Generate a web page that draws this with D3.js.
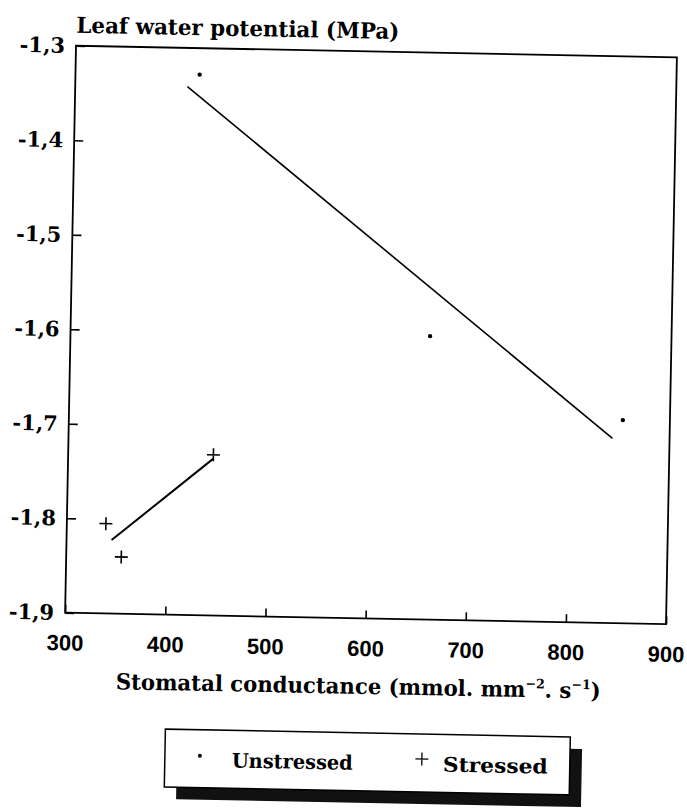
<!DOCTYPE html>
<html>
<head>
<meta charset="utf-8">
<script src="https://cdn.jsdelivr.net/npm/d3@7"></script>
<style>
  body { margin: 0; background: #fff; }
  svg { display: block; }
</style>
</head>
<body>
<div id="chart"></div>
<script>

// data
var unstressedX = [424, 659, 853];
var unstressedY = [-1.328, -1.600, -1.685];
var stressedX = [339, 355, 445];
var stressedY = [-1.805, -1.840, -1.730];
// x span over which each fitted line is drawn
var unstressedFitX = [412, 843];
var stressedFitX = [345, 445];

var xTicks = [300, 400, 500, 600, 700, 800, 900];
var yTicks = [-1.3, -1.4, -1.5, -1.6, -1.7, -1.8, -1.9];
var yTickLabels = ["-1,3", "-1,4", "-1,5", "-1,6", "-1,7", "-1,8", "-1,9"];

var yTitle = "Leaf water potential (MPa)";
var legendNames = ["Unstressed", "Stressed"];

var W = 687, H = 810;
var plotL = 70.5, plotR = 671.5, plotT = 51.5, plotB = 618.5;
var titleFont = "'DejaVu Serif', serif";

var svg = d3.select("#chart").append("svg")
    .attr("width", W)
    .attr("height", H);

// the scan is turned a little, so the whole figure is turned with it
var g = svg.append("g")
    .attr("transform", "rotate(1.1, 371.5, 335.25)");

var x = d3.scaleLinear().domain([300, 900]).range([plotL, plotR]);
var y = d3.scaleLinear().domain([-1.9, -1.3]).range([plotB, plotT]);

// least squares line through one series
function fit(xs, ys) {
  var mx = d3.mean(xs), my = d3.mean(ys);
  var sxy = d3.sum(xs, function(v, i) { return (v - mx) * (ys[i] - my); });
  var sxx = d3.sum(xs, function(v) { return (v - mx) * (v - mx); });
  var b = sxy / sxx;
  return function(v) { return my + b * (v - mx); };
}

// axes
var yAxis = d3.axisLeft(y)
    .tickValues(yTicks)
    .tickSize(-9)
    .tickSizeOuter(0)
    .tickPadding(11)
    .tickFormat(function(d, i) { return yTickLabels[i]; });

var xAxis = d3.axisBottom(x)
    .tickValues(xTicks)
    .tickSize(-8)
    .tickSizeOuter(0)
    .tickPadding(22)
    .tickFormat(d3.format("d"));

var gy = g.append("g")
    .attr("transform", "translate(" + plotL + ",0)")
    .call(yAxis);
gy.select(".domain").remove();
gy.selectAll("line").attr("stroke", "#000").attr("stroke-width", 1.6);
gy.selectAll("text")
    .attr("fill", "#000")
    .style("font-family", titleFont)
    .style("font-weight", "bold")
    .style("font-size", "21px");

var gx = g.append("g")
    .attr("transform", "translate(0," + plotB + ")")
    .call(xAxis);
gx.select(".domain").remove();
gx.selectAll("line").attr("stroke", "#000").attr("stroke-width", 1.6);
gx.selectAll("text")
    .attr("fill", "#000")
    .style("font-family", "'Liberation Sans', Arial, sans-serif")
    .style("font-weight", "bold")
    .style("font-size", "22px");

// frame
g.append("rect")
    .attr("x", plotL)
    .attr("y", plotT)
    .attr("width", plotR - plotL)
    .attr("height", plotB - plotT)
    .attr("fill", "none")
    .attr("stroke", "#000")
    .attr("stroke-width", 1.8);

// titles
g.append("text")
    .attr("x", plotL)
    .attr("y", plotT - 13)
    .attr("textLength", 323)
    .attr("lengthAdjust", "spacingAndGlyphs")
    .style("font-family", titleFont)
    .style("font-weight", "bold")
    .style("font-size", "22px")
    .text(yTitle);

var xt = g.append("text")
    .attr("x", (plotL + plotR) / 2 - 6)
    .attr("y", 694)
    .attr("text-anchor", "middle")
    .attr("textLength", 485)
    .attr("lengthAdjust", "spacingAndGlyphs")
    .style("font-family", titleFont)
    .style("font-weight", "bold")
    .style("font-size", "22px");
xt.append("tspan").text("Stomatal conductance (mmol. mm");
xt.append("tspan").attr("dy", -9).style("font-size", "13px").text("\u22122");
xt.append("tspan").attr("dy", 9).text(". s");
xt.append("tspan").attr("dy", -9).style("font-size", "13px").text("\u22121");
xt.append("tspan").attr("dy", 9).text(")");

// fitted lines
var fitU = fit(unstressedX, unstressedY);
var fitS = fit(stressedX, stressedY);
var line = d3.line()
    .x(function(d) { return x(d[0]); })
    .y(function(d) { return y(d[1]); });

g.append("path")
    .attr("d", line(unstressedFitX.map(function(v) { return [v, fitU(v)]; })))
    .attr("fill", "none")
    .attr("stroke", "#000")
    .attr("stroke-width", 1.6);

g.append("path")
    .attr("d", line(stressedFitX.map(function(v) { return [v, fitS(v)]; })))
    .attr("fill", "none")
    .attr("stroke", "#000")
    .attr("stroke-width", 2);

// points
g.selectAll("circle.unstressed")
    .data(unstressedX)
  .enter().append("circle")
    .attr("class", "unstressed")
    .attr("cx", function(d) { return x(d); })
    .attr("cy", function(d, i) { return y(unstressedY[i]); })
    .attr("r", 2.2)
    .attr("fill", "#000");

var cross = "M-6.5,0H6.5M0,-6.5V6.5";
g.selectAll("path.stressed")
    .data(stressedX)
  .enter().append("path")
    .attr("class", "stressed")
    .attr("transform", function(d, i) { return "translate(" + x(d) + "," + y(stressedY[i]) + ")"; })
    .attr("d", cross)
    .attr("fill", "none")
    .attr("stroke", "#000")
    .attr("stroke-width", 1.6);

// legend
var lg = g.append("g").attr("transform", "translate(173,733)");
lg.append("rect")
    .attr("x", 12).attr("y", 12)
    .attr("width", 405).attr("height", 58)
    .attr("fill", "#111");
lg.append("rect")
    .attr("width", 405).attr("height", 58)
    .attr("fill", "#fff")
    .attr("stroke", "#000")
    .attr("stroke-width", 1.5);

lg.append("circle")
    .attr("cx", 35).attr("cy", 26)
    .attr("r", 2)
    .attr("fill", "#000");
lg.append("path")
    .attr("transform", "translate(257,25)")
    .attr("d", cross)
    .attr("fill", "none")
    .attr("stroke", "#000")
    .attr("stroke-width", 1.3);

lg.selectAll("text")
    .data(legendNames)
  .enter().append("text")
    .attr("x", function(d, i) { return i === 0 ? 67 : 278; })
    .attr("y", 37)
    .attr("textLength", function(d, i) { return i === 0 ? 121 : 105; })
    .attr("lengthAdjust", "spacingAndGlyphs")
    .style("font-family", titleFont)
    .style("font-weight", "bold")
    .style("font-size", "20px")
    .text(function(d) { return d; });

</script>
</body>
</html>
